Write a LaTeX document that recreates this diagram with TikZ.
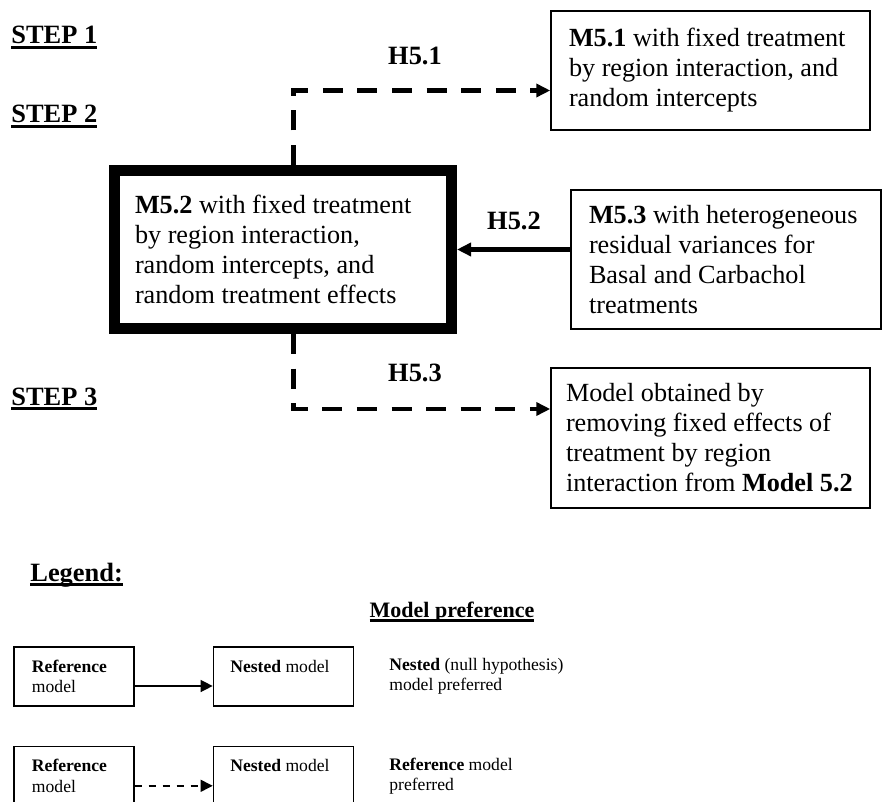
\documentclass[tikz,border=0pt]{standalone}
\usepackage{fontspec}
\setmainfont{Liberation Serif}
\usetikzlibrary{arrows.meta,positioning}
\newcommand{\mainsize}{\fontsize{13.1pt}{15pt}\selectfont}
\newcommand{\legsize}{\fontsize{8.8pt}{10.2pt}\selectfont}
\newcommand{\uline}[1]{\setbox0\hbox{#1}\rlap{\rule[-2.5pt]{\wd0}{1.3pt}}\box0}

\begin{document}
\begin{tikzpicture}[x=0.5pt,y=-0.5pt,>={Triangle[length=7pt,width=6.5pt]},
		model box/.style={draw,line width=0.75pt,align=flush left,font=\mainsize,inner xsep=9pt,inner ysep=0pt},
		ref box/.style={model box,line width=5.5pt,inner xsep=10.25pt},
		leg box/.style={draw,line width=0.65pt,align=flush left,font=\legsize,inner ysep=0pt,minimum height=29.5pt},
		step label/.style={font=\fontsize{13.2pt}{15pt}\bfseries,inner sep=0pt,anchor=base west},
		hyp label/.style={font=\fontsize{13.2pt}{15pt}\bfseries,inner sep=0pt},
		test/.style={->,line width=2.35pt,dash pattern=on 10pt off 7.3pt},
		leg arrow/.style={->,line width=0.7pt,>={Triangle[length=6pt,width=6pt]}}]
		\useasboundingbox (0,0) rectangle (883,802);
		% 步骤
		\node[step label] (s1) at (11,44) {\uline{STEP 1}};
		\node[step label] (s2) at (11,123) {\uline{STEP 2}};
		\node[step label] (s3) at (11,405) {\uline{STEP 3}};
		% 模型
		\node[ref box,text width=148pt,minimum height=79pt] (m52) at (283,249.5)
		{\textbf{M5.2} with fixed treatment\\by region interaction,\\random intercepts, and\\random treatment effects};
		\node[model box,text width=141.5pt,minimum height=59.5pt] (m51) at (710.5,70.5)
		{\textbf{M5.1} with fixed treatment\\by region interaction, and\\random intercepts};
		\node[model box,text width=137pt,minimum height=69.5pt] (m53) at (726,259.5)
		{\textbf{M5.3} with heterogeneous\\residual variances for\\Basal and Carbachol\\treatments};
		\node[model box,inner xsep=7.5pt,text width=144.5pt,minimum height=70pt] (m50) at (710.5,438)
		{Model obtained by\\removing fixed effects of\\treatment by region\\interaction from \textbf{Model 5.2}};
		\coordinate (h51) at (293.5,90.5);
		\coordinate (h53) at (293.5,409);
		\node[hyp label] (l51) at (415,56) {H5.1};
		\node[hyp label] (l52) at (514,221) {H5.2};
		\node[hyp label] (l53) at (415,373) {H5.3};
		\draw[test] (h51 |- m52.north) |- (m51.west |- h51);
		\draw[test] (h53 |- m52.south) |- (m50.west |- h53);
		\draw[->,line width=2.5pt] (m53.west |- m52.east) -- (m52.east);
		% 图例
		\node[step label] (leg) at (30,581) {\uline{Legend:}};
		\node[font=\fontsize{11pt}{13pt}\bfseries,inner sep=0pt,anchor=base] (pref) at (452,617) {\uline{Model preference}};
		\node[leg box,inner xsep=9pt,text width=42pt,minimum width=60pt] (ref1) at (74,676.5) {\textbf{Reference}\\model};
		\node[leg box,inner xsep=8.5pt,text width=53pt,minimum width=70pt] (nest1) [right=39pt of ref1] {\textbf{Nested} model\\~};
		\node[leg box,inner xsep=9pt,text width=42pt,minimum width=60pt] (ref2) [below=19.5pt of ref1] {\textbf{Reference}\\model};
		\node[leg box,inner xsep=8.5pt,text width=53pt,minimum width=70pt] (nest2) [below=19.5pt of nest1] {\textbf{Nested} model\\~};
		\node[font=\legsize,align=left,inner sep=0pt,anchor=west] (pref1) at (389,676) {\textbf{Nested} (null hypothesis)\\model preferred};
		\node[font=\legsize,align=left,inner sep=0pt,anchor=west] (pref2) at (389,776) {\textbf{Reference} model\\preferred};
		\draw[leg arrow] ([yshift=-4.75pt]ref1.east) -- ([yshift=-4.75pt]nest1.west);
		\draw[leg arrow,dash pattern=on 3.5pt off 3.5pt] ([yshift=-5pt]ref2.east) -- ([yshift=-5pt]nest2.west);
\end{tikzpicture}
\end{document}
